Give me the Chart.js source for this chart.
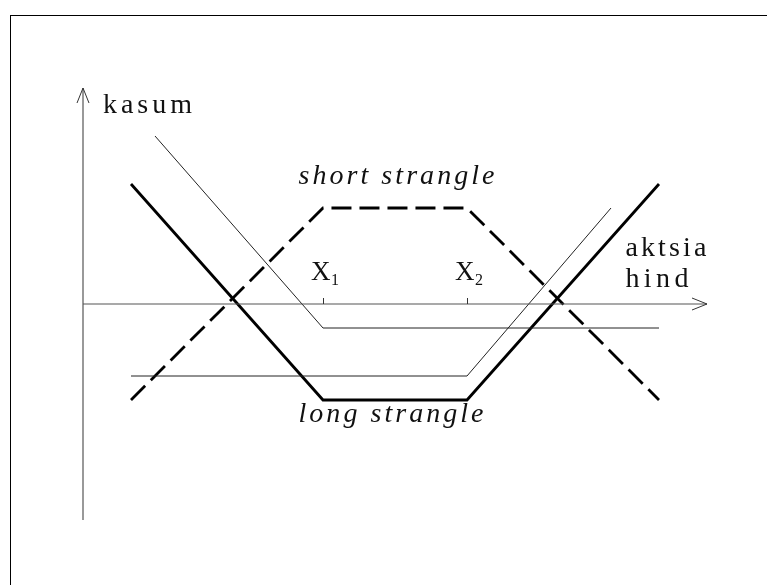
<!DOCTYPE html>
<html>
<head>
<meta charset="utf-8">
<script src="https://cdn.jsdelivr.net/npm/chart.js@4.4.1/dist/chart.umd.min.js"></script>
<style>
  html, body { margin: 0; padding: 0; background: #fff; }
  #wrap { width: 767px; height: 585px; }
</style>
</head>
<body>
<div id="wrap"><canvas id="chart" width="767" height="585"></canvas></div>
<script>
// payoff lines (x = stock price, y = profit)
const shortX = [1, 5, 8, 12];
const shortY = [-2, 2, 2, -2];
const longX = [1, 5, 8, 12];
const longY = [2.5, -2, -2, 2.5];
const thinCallX = [1.5, 5, 12];
const thinCallY = [3.5, -0.5, -0.5];
const thinPutX = [1, 8, 11];
const thinPutY = [-1.5, -1.5, 2];

// axes
const xAxisX = [0, 13];
const xAxisY = [0, 0];
const yAxisX = [0, 0];
const yAxisY = [-4.5, 4.5];

// strike ticks
const tickValues = [5, 8];
const tickLabels = ["1", "2"];

function toPoints(xs, ys) {
  return xs.map((x, i) => ({ x: x, y: ys[i] }));
}

// pixel of the origin and size of one unit, used only for the scale bounds
const originPx = { x: 83, y: 304 };
const unit = 48;
const W = 767, H = 585;

const serif = "'Liberation Serif', 'DejaVu Serif', serif";

// draw text with letter spacing so that it fills a given width
function spacedText(ctx, text, x, y, font, width) {
  ctx.font = font;
  ctx.letterSpacing = "0px";
  const plain = ctx.measureText(text).width;
  const sp = (width - plain) / (text.length - 1);
  ctx.letterSpacing = sp.toFixed(2) + "px";
  ctx.fillText(text, x, y);
  ctx.letterSpacing = "0px";
}

const decorPlugin = {
  id: "decor",
  afterDraw(chart) {
    const ctx = chart.ctx;
    const xs = chart.scales.x, ys = chart.scales.y;
    const px = (v) => xs.getPixelForValue(v);
    const py = (v) => ys.getPixelForValue(v);
    ctx.save();

    // frame
    ctx.strokeStyle = "#000";
    ctx.lineWidth = 1;
    ctx.strokeRect(10.5, 15.5, 900, 700);

    // arrow heads
    ctx.strokeStyle = "#333";
    ctx.lineWidth = 1;
    const yTop = py(yAxisY[1]), y0x = px(yAxisX[1]);
    ctx.beginPath();
    ctx.moveTo(y0x - 6, yTop + 15);
    ctx.lineTo(y0x, yTop);
    ctx.lineTo(y0x + 6, yTop + 15);
    ctx.stroke();
    const xEnd = px(xAxisX[1]), x0y = py(xAxisY[1]);
    ctx.beginPath();
    ctx.moveTo(xEnd - 15, x0y - 6);
    ctx.lineTo(xEnd, x0y);
    ctx.lineTo(xEnd - 15, x0y + 6);
    ctx.stroke();

    // strike ticks and labels
    ctx.fillStyle = "#111";
    ctx.textBaseline = "alphabetic";
    tickValues.forEach((v, i) => {
      const tx = Math.round(px(v)) + 0.5;
      ctx.beginPath();
      ctx.moveTo(tx, py(0));
      ctx.lineTo(tx, py(0) - 6);
      ctx.stroke();
      ctx.font = "27px " + serif;
      ctx.textAlign = "left";
      ctx.fillText("X", px(v) - 12, py(0) - 24);
      ctx.font = "16px " + serif;
      ctx.fillText(tickLabels[i], px(v) + 8, py(0) - 19);
    });

    // axis titles and curve names
    ctx.textAlign = "left";
    spacedText(ctx, "kasum", px(0) + 20, py(4) + 1, "28px " + serif, 89);
    spacedText(ctx, "aktsia", px(11.3), py(1), "28px " + serif, 81);
    spacedText(ctx, "hind", px(11.3), py(0.35), "28px " + serif, 63);
    spacedText(ctx, "short strangle", px(4.5) - 0.5, py(2.5), "italic 28px " + serif, 196);
    spacedText(ctx, "long strangle", px(4.5) - 0.5, py(-2.5) - 2, "italic 28px " + serif, 185);

    ctx.restore();
  }
};

const ds = (xs, ys, opts) => Object.assign({
  data: toPoints(xs, ys),
  showLine: true,
  pointRadius: 0,
  borderColor: "#000",
  borderWidth: 1,
  tension: 0,
  fill: false
}, opts);

new Chart(document.getElementById("chart").getContext("2d"), {
  type: "scatter",
  data: {
    datasets: [
      ds(xAxisX, xAxisY, { borderColor: "#555", borderWidth: 1.2 }),
      ds(yAxisX, yAxisY, { borderColor: "#555", borderWidth: 1.2 }),
      ds(thinCallX, thinCallY, { borderColor: "#222", borderWidth: 1 }),
      ds(thinPutX, thinPutY, { borderColor: "#222", borderWidth: 1 }),
      ds(longX, longY, { borderWidth: 2.8, borderCapStyle: "butt" }),
      ds(shortX, shortY, { borderWidth: 2.8, borderDash: [20, 8], borderCapStyle: "butt" })
    ]
  },
  options: {
    responsive: false,
    animation: false,
    events: [],
    layout: { padding: 0 },
    plugins: { legend: { display: false }, tooltip: { enabled: false } },
    scales: {
      x: { type: "linear", display: false, min: -originPx.x / unit, max: (W - originPx.x) / unit },
      y: { type: "linear", display: false, min: -(H - originPx.y) / unit, max: originPx.y / unit }
    }
  },
  plugins: [decorPlugin]
});
</script>
</body>
</html>
